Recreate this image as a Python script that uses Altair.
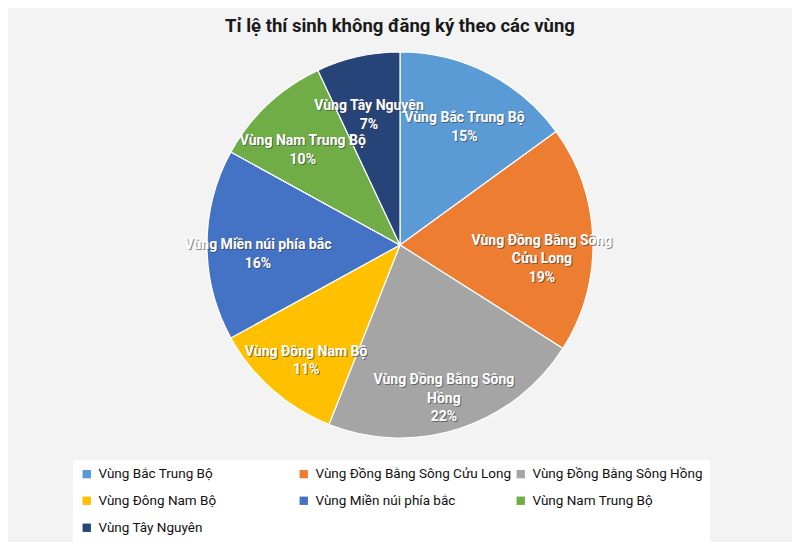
import altair as alt
import pandas as pd

regions = [
    "Vùng Bắc Trung Bộ",
    "Vùng Đồng Bằng Sông Cửu Long",
    "Vùng Đồng Bằng Sông Hồng",
    "Vùng Đông Nam Bộ",
    "Vùng Miền núi phía bắc",
    "Vùng Nam Trung Bộ",
    "Vùng Tây Nguyên",
]
values = [15, 19, 22, 11, 16, 10, 7]
label_names = [
    "Vùng Bắc Trung Bộ",
    "Vùng Đồng Bằng Sông\nCửu Long",
    "Vùng Đồng Bằng Sông\nHồng",
    "Vùng Đông Nam Bộ",
    "Vùng Miền núi phía bắc",
    "Vùng Nam Trung Bộ",
    "Vùng Tây Nguyên",
]
colors = ["#5B9BD5", "#ED7D31", "#A5A5A5", "#FFC000", "#4472C4", "#70AD47", "#264478"]

df = pd.DataFrame({
    "region": regions,
    "value": values,
    "order": list(range(len(regions))),
    "label": [f"{n}\n{v}%" for n, v in zip(label_names, values)],
})

FONT = "Roboto"

base = alt.Chart(df).encode(
    theta=alt.Theta("value:Q", stack=True),
    order=alt.Order("order:Q", sort="ascending"),
)

arcs = base.mark_arc(outerRadius=193, stroke="#ffffff", strokeWidth=1.2).encode(
    color=alt.Color(
        "region:N",
        scale=alt.Scale(domain=regions, range=colors),
        sort=regions,
        legend=alt.Legend(
            title=None,
            orient="none",
            direction="horizontal",
            legendX=65,
            legendY=411,
            columns=3,
            gridAlign="all",
            symbolType="square",
            symbolSize=70,
            symbolStrokeWidth=0,
            labelFont=FONT,
            labelFontSize=13.5,
            labelColor="#111111",
            labelLimit=400,
            labelOffset=5,
            rowPadding=12,
            columnPadding=2,
            fillColor="#ffffff",
            padding=7,
        ),
    )
)

shadow = base.mark_text(
    radius=142, dx=1, dy=1, color="#3a3a3a", opacity=0.6,
    font=FONT, fontSize=14, fontWeight="bold", lineBreak="\n", lineHeight=18.5,
).encode(text="label:N", detail="region:N")

labels = base.mark_text(
    radius=142, color="#ffffff",
    font=FONT, fontSize=14, fontWeight="bold", lineBreak="\n", lineHeight=18.5,
).encode(text="label:N", detail="region:N")

chart = (
    alt.layer(arcs, shadow, labels)
    .properties(
        width=784,
        height=392,
        padding={"left": 0, "right": 0, "top": 8, "bottom": 0},
        title=alt.Title(
            "Tỉ lệ thí sinh không đăng ký theo các vùng",
            font=FONT, fontSize=18.5, fontWeight="bold", color="#1a1a1a",
            anchor="middle", offset=14,
        ),
    )
    .configure(background="#f3f3f3")
    .configure_view(stroke=None)
)

chart.save("out.html", embed_options={"renderer": "svg", "actions": False})
